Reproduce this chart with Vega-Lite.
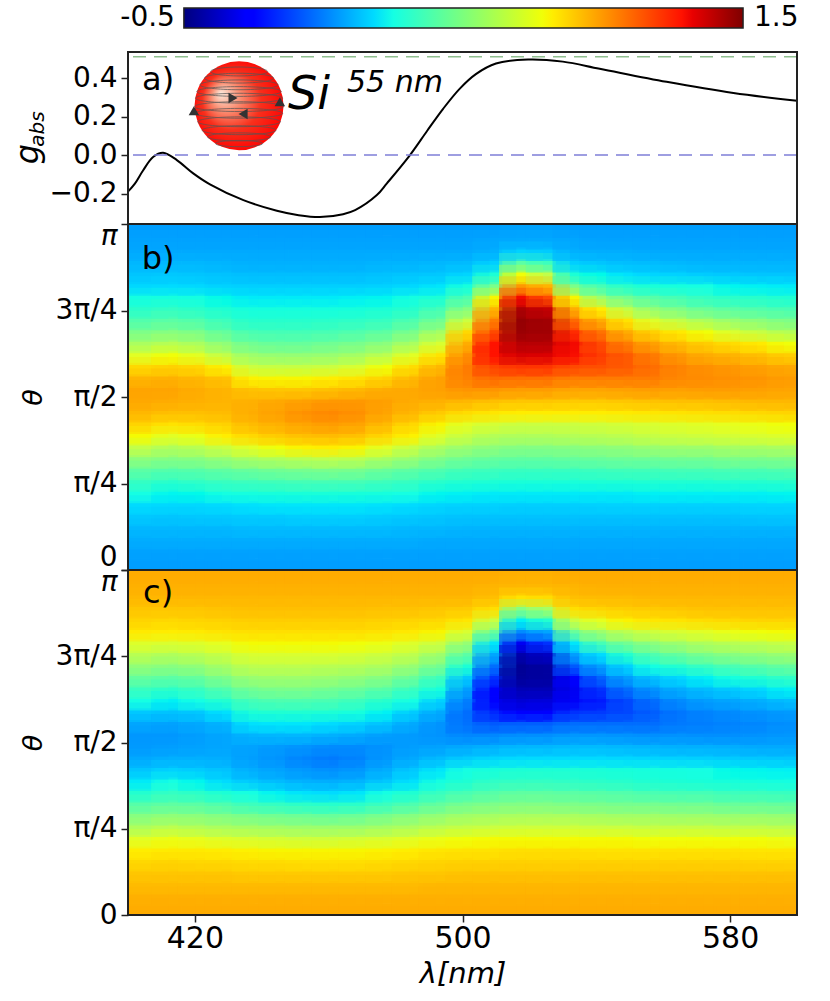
{"$schema":"https://vega.github.io/schema/vega-lite/v6.json","background":"white","autosize":{"type":"none"},"padding":{"left":128,"top":8,"right":702,"bottom":993},"config":{"view":{"stroke":null},"font":"DejaVu Sans","axis":{"labelFont":"DejaVu Sans","titleFont":"DejaVu Sans","labelFontSize":28,"titleFontSize":27,"labelColor":"#000","titleColor":"#000","tickColor":"#222","tickSize":7,"tickWidth":1.5,"domain":false,"grid":false,"labelPadding":4,"titleFontWeight":"normal"}},"datasets":{"field":[
{"l":404,"t":3,"v":0},{"l":404,"t":9,"v":0.01},{"l":404,"t":15,"v":0.04},{"l":404,"t":21,"v":0.07},{"l":404,"t":27,"v":0.12},{"l":404,"t":33,"v":0.18},{"l":404,"t":39,"v":0.25},{"l":404,"t":45,"v":0.36},{"l":404,"t":51,"v":0.45},{"l":404,"t":57,"v":0.56},{"l":404,"t":63,"v":0.68},{"l":404,"t":69,"v":0.79},{"l":404,"t":75,"v":0.89},{"l":404,"t":81,"v":0.97},{"l":404,"t":87,"v":1.01},{"l":404,"t":93,"v":1.02},{"l":404,"t":99,"v":0.98},{"l":404,"t":105,"v":0.88},{"l":404,"t":111,"v":0.75},{"l":404,"t":117,"v":0.63},{"l":404,"t":123,"v":0.53},{"l":404,"t":129,"v":0.43},{"l":404,"t":135,"v":0.34},{"l":404,"t":141,"v":0.26},{"l":404,"t":147,"v":0.17},{"l":404,"t":153,"v":0.11},{"l":404,"t":159,"v":0.07},{"l":404,"t":165,"v":0.03},{"l":404,"t":171,"v":0.01},{"l":404,"t":177,"v":0},
{"l":412,"t":3,"v":0},{"l":412,"t":9,"v":0.01},{"l":412,"t":15,"v":0.04},{"l":412,"t":21,"v":0.07},{"l":412,"t":27,"v":0.11},{"l":412,"t":33,"v":0.17},{"l":412,"t":39,"v":0.23},{"l":412,"t":45,"v":0.33},{"l":412,"t":51,"v":0.43},{"l":412,"t":57,"v":0.54},{"l":412,"t":63,"v":0.64},{"l":412,"t":69,"v":0.75},{"l":412,"t":75,"v":0.85},{"l":412,"t":81,"v":0.95},{"l":412,"t":87,"v":1.0},{"l":412,"t":93,"v":1.02},{"l":412,"t":99,"v":0.99},{"l":412,"t":105,"v":0.9},{"l":412,"t":111,"v":0.78},{"l":412,"t":117,"v":0.66},{"l":412,"t":123,"v":0.55},{"l":412,"t":129,"v":0.45},{"l":412,"t":135,"v":0.36},{"l":412,"t":141,"v":0.27},{"l":412,"t":147,"v":0.18},{"l":412,"t":153,"v":0.12},{"l":412,"t":159,"v":0.07},{"l":412,"t":165,"v":0.03},{"l":412,"t":171,"v":0.01},{"l":412,"t":177,"v":0},
{"l":420,"t":3,"v":0},{"l":420,"t":9,"v":0.01},{"l":420,"t":15,"v":0.04},{"l":420,"t":21,"v":0.07},{"l":420,"t":27,"v":0.12},{"l":420,"t":33,"v":0.17},{"l":420,"t":39,"v":0.24},{"l":420,"t":45,"v":0.35},{"l":420,"t":51,"v":0.44},{"l":420,"t":57,"v":0.55},{"l":420,"t":63,"v":0.66},{"l":420,"t":69,"v":0.77},{"l":420,"t":75,"v":0.87},{"l":420,"t":81,"v":0.95},{"l":420,"t":87,"v":0.99},{"l":420,"t":93,"v":1.0},{"l":420,"t":99,"v":0.97},{"l":420,"t":105,"v":0.88},{"l":420,"t":111,"v":0.75},{"l":420,"t":117,"v":0.63},{"l":420,"t":123,"v":0.53},{"l":420,"t":129,"v":0.43},{"l":420,"t":135,"v":0.34},{"l":420,"t":141,"v":0.26},{"l":420,"t":147,"v":0.17},{"l":420,"t":153,"v":0.11},{"l":420,"t":159,"v":0.07},{"l":420,"t":165,"v":0.03},{"l":420,"t":171,"v":0.01},{"l":420,"t":177,"v":0},
{"l":428,"t":3,"v":0},{"l":428,"t":9,"v":0.01},{"l":428,"t":15,"v":0.04},{"l":428,"t":21,"v":0.07},{"l":428,"t":27,"v":0.12},{"l":428,"t":33,"v":0.18},{"l":428,"t":39,"v":0.26},{"l":428,"t":45,"v":0.37},{"l":428,"t":51,"v":0.46},{"l":428,"t":57,"v":0.58},{"l":428,"t":63,"v":0.7},{"l":428,"t":69,"v":0.82},{"l":428,"t":75,"v":0.9},{"l":428,"t":81,"v":0.96},{"l":428,"t":87,"v":0.98},{"l":428,"t":93,"v":0.98},{"l":428,"t":99,"v":0.94},{"l":428,"t":105,"v":0.81},{"l":428,"t":111,"v":0.68},{"l":428,"t":117,"v":0.57},{"l":428,"t":123,"v":0.47},{"l":428,"t":129,"v":0.38},{"l":428,"t":135,"v":0.31},{"l":428,"t":141,"v":0.24},{"l":428,"t":147,"v":0.15},{"l":428,"t":153,"v":0.1},{"l":428,"t":159,"v":0.06},{"l":428,"t":165,"v":0.03},{"l":428,"t":171,"v":0.01},{"l":428,"t":177,"v":0},
{"l":436,"t":3,"v":0},{"l":436,"t":9,"v":0.01},{"l":436,"t":15,"v":0.04},{"l":436,"t":21,"v":0.08},{"l":436,"t":27,"v":0.13},{"l":436,"t":33,"v":0.19},{"l":436,"t":39,"v":0.27},{"l":436,"t":45,"v":0.38},{"l":436,"t":51,"v":0.48},{"l":436,"t":57,"v":0.62},{"l":436,"t":63,"v":0.75},{"l":436,"t":69,"v":0.88},{"l":436,"t":75,"v":0.96},{"l":436,"t":81,"v":1.0},{"l":436,"t":87,"v":0.99},{"l":436,"t":93,"v":0.94},{"l":436,"t":99,"v":0.81},{"l":436,"t":105,"v":0.7},{"l":436,"t":111,"v":0.6},{"l":436,"t":117,"v":0.5},{"l":436,"t":123,"v":0.41},{"l":436,"t":129,"v":0.33},{"l":436,"t":135,"v":0.27},{"l":436,"t":141,"v":0.21},{"l":436,"t":147,"v":0.14},{"l":436,"t":153,"v":0.09},{"l":436,"t":159,"v":0.05},{"l":436,"t":165,"v":0.03},{"l":436,"t":171,"v":0.01},{"l":436,"t":177,"v":0},
{"l":444,"t":3,"v":0},{"l":444,"t":9,"v":0.01},{"l":444,"t":15,"v":0.04},{"l":444,"t":21,"v":0.08},{"l":444,"t":27,"v":0.13},{"l":444,"t":33,"v":0.2},{"l":444,"t":39,"v":0.28},{"l":444,"t":45,"v":0.39},{"l":444,"t":51,"v":0.5},{"l":444,"t":57,"v":0.64},{"l":444,"t":63,"v":0.78},{"l":444,"t":69,"v":0.92},{"l":444,"t":75,"v":0.99},{"l":444,"t":81,"v":1.03},{"l":444,"t":87,"v":1.01},{"l":444,"t":93,"v":0.93},{"l":444,"t":99,"v":0.8},{"l":444,"t":105,"v":0.69},{"l":444,"t":111,"v":0.58},{"l":444,"t":117,"v":0.48},{"l":444,"t":123,"v":0.4},{"l":444,"t":129,"v":0.33},{"l":444,"t":135,"v":0.27},{"l":444,"t":141,"v":0.21},{"l":444,"t":147,"v":0.14},{"l":444,"t":153,"v":0.09},{"l":444,"t":159,"v":0.05},{"l":444,"t":165,"v":0.03},{"l":444,"t":171,"v":0.01},{"l":444,"t":177,"v":0},
{"l":452,"t":3,"v":0},{"l":452,"t":9,"v":0.01},{"l":452,"t":15,"v":0.04},{"l":452,"t":21,"v":0.08},{"l":452,"t":27,"v":0.14},{"l":452,"t":33,"v":0.2},{"l":452,"t":39,"v":0.29},{"l":452,"t":45,"v":0.4},{"l":452,"t":51,"v":0.51},{"l":452,"t":57,"v":0.66},{"l":452,"t":63,"v":0.81},{"l":452,"t":69,"v":0.95},{"l":452,"t":75,"v":1.02},{"l":452,"t":81,"v":1.07},{"l":452,"t":87,"v":1.03},{"l":452,"t":93,"v":0.93},{"l":452,"t":99,"v":0.8},{"l":452,"t":105,"v":0.69},{"l":452,"t":111,"v":0.58},{"l":452,"t":117,"v":0.48},{"l":452,"t":123,"v":0.4},{"l":452,"t":129,"v":0.33},{"l":452,"t":135,"v":0.27},{"l":452,"t":141,"v":0.21},{"l":452,"t":147,"v":0.14},{"l":452,"t":153,"v":0.09},{"l":452,"t":159,"v":0.05},{"l":452,"t":165,"v":0.03},{"l":452,"t":171,"v":0.01},{"l":452,"t":177,"v":0},
{"l":460,"t":3,"v":0},{"l":460,"t":9,"v":0.01},{"l":460,"t":15,"v":0.04},{"l":460,"t":21,"v":0.08},{"l":460,"t":27,"v":0.14},{"l":460,"t":33,"v":0.2},{"l":460,"t":39,"v":0.29},{"l":460,"t":45,"v":0.4},{"l":460,"t":51,"v":0.52},{"l":460,"t":57,"v":0.67},{"l":460,"t":63,"v":0.82},{"l":460,"t":69,"v":0.96},{"l":460,"t":75,"v":1.04},{"l":460,"t":81,"v":1.09},{"l":460,"t":87,"v":1.05},{"l":460,"t":93,"v":0.95},{"l":460,"t":99,"v":0.82},{"l":460,"t":105,"v":0.7},{"l":460,"t":111,"v":0.59},{"l":460,"t":117,"v":0.5},{"l":460,"t":123,"v":0.41},{"l":460,"t":129,"v":0.34},{"l":460,"t":135,"v":0.27},{"l":460,"t":141,"v":0.21},{"l":460,"t":147,"v":0.14},{"l":460,"t":153,"v":0.09},{"l":460,"t":159,"v":0.05},{"l":460,"t":165,"v":0.03},{"l":460,"t":171,"v":0.01},{"l":460,"t":177,"v":0},
{"l":468,"t":3,"v":0},{"l":468,"t":9,"v":0.01},{"l":468,"t":15,"v":0.04},{"l":468,"t":21,"v":0.08},{"l":468,"t":27,"v":0.14},{"l":468,"t":33,"v":0.2},{"l":468,"t":39,"v":0.28},{"l":468,"t":45,"v":0.4},{"l":468,"t":51,"v":0.51},{"l":468,"t":57,"v":0.66},{"l":468,"t":63,"v":0.8},{"l":468,"t":69,"v":0.94},{"l":468,"t":75,"v":1.02},{"l":468,"t":81,"v":1.07},{"l":468,"t":87,"v":1.05},{"l":468,"t":93,"v":0.97},{"l":468,"t":99,"v":0.85},{"l":468,"t":105,"v":0.73},{"l":468,"t":111,"v":0.62},{"l":468,"t":117,"v":0.52},{"l":468,"t":123,"v":0.43},{"l":468,"t":129,"v":0.35},{"l":468,"t":135,"v":0.28},{"l":468,"t":141,"v":0.22},{"l":468,"t":147,"v":0.14},{"l":468,"t":153,"v":0.09},{"l":468,"t":159,"v":0.05},{"l":468,"t":165,"v":0.03},{"l":468,"t":171,"v":0.01},{"l":468,"t":177,"v":0},
{"l":476,"t":3,"v":0},{"l":476,"t":9,"v":0.01},{"l":476,"t":15,"v":0.04},{"l":476,"t":21,"v":0.08},{"l":476,"t":27,"v":0.13},{"l":476,"t":33,"v":0.19},{"l":476,"t":39,"v":0.27},{"l":476,"t":45,"v":0.38},{"l":476,"t":51,"v":0.48},{"l":476,"t":57,"v":0.62},{"l":476,"t":63,"v":0.75},{"l":476,"t":69,"v":0.88},{"l":476,"t":75,"v":0.96},{"l":476,"t":81,"v":1.02},{"l":476,"t":87,"v":1.03},{"l":476,"t":93,"v":1.0},{"l":476,"t":99,"v":0.9},{"l":476,"t":105,"v":0.78},{"l":476,"t":111,"v":0.67},{"l":476,"t":117,"v":0.56},{"l":476,"t":123,"v":0.46},{"l":476,"t":129,"v":0.37},{"l":476,"t":135,"v":0.3},{"l":476,"t":141,"v":0.23},{"l":476,"t":147,"v":0.15},{"l":476,"t":153,"v":0.1},{"l":476,"t":159,"v":0.06},{"l":476,"t":165,"v":0.03},{"l":476,"t":171,"v":0.01},{"l":476,"t":177,"v":0},
{"l":484,"t":3,"v":0},{"l":484,"t":9,"v":0.01},{"l":484,"t":15,"v":0.04},{"l":484,"t":21,"v":0.07},{"l":484,"t":27,"v":0.12},{"l":484,"t":33,"v":0.18},{"l":484,"t":39,"v":0.25},{"l":484,"t":45,"v":0.36},{"l":484,"t":51,"v":0.45},{"l":484,"t":57,"v":0.58},{"l":484,"t":63,"v":0.69},{"l":484,"t":69,"v":0.81},{"l":484,"t":75,"v":0.88},{"l":484,"t":81,"v":0.97},{"l":484,"t":87,"v":1.0},{"l":484,"t":93,"v":1.01},{"l":484,"t":99,"v":0.97},{"l":484,"t":105,"v":0.87},{"l":484,"t":111,"v":0.75},{"l":484,"t":117,"v":0.63},{"l":484,"t":123,"v":0.52},{"l":484,"t":129,"v":0.42},{"l":484,"t":135,"v":0.33},{"l":484,"t":141,"v":0.26},{"l":484,"t":147,"v":0.17},{"l":484,"t":153,"v":0.11},{"l":484,"t":159,"v":0.06},{"l":484,"t":165,"v":0.03},{"l":484,"t":171,"v":0.01},{"l":484,"t":177,"v":0},
{"l":492,"t":3,"v":0},{"l":492,"t":9,"v":0.01},{"l":492,"t":15,"v":0.03},{"l":492,"t":21,"v":0.07},{"l":492,"t":27,"v":0.11},{"l":492,"t":33,"v":0.16},{"l":492,"t":39,"v":0.23},{"l":492,"t":45,"v":0.33},{"l":492,"t":51,"v":0.42},{"l":492,"t":57,"v":0.53},{"l":492,"t":63,"v":0.63},{"l":492,"t":69,"v":0.74},{"l":492,"t":75,"v":0.8},{"l":492,"t":81,"v":0.92},{"l":492,"t":87,"v":0.99},{"l":492,"t":93,"v":1.03},{"l":492,"t":99,"v":1.03},{"l":492,"t":105,"v":0.97},{"l":492,"t":111,"v":0.85},{"l":492,"t":117,"v":0.73},{"l":492,"t":123,"v":0.62},{"l":492,"t":129,"v":0.5},{"l":492,"t":135,"v":0.4},{"l":492,"t":141,"v":0.3},{"l":492,"t":147,"v":0.2},{"l":492,"t":153,"v":0.12},{"l":492,"t":159,"v":0.07},{"l":492,"t":165,"v":0.03},{"l":492,"t":171,"v":0.01},{"l":492,"t":177,"v":0},
{"l":500,"t":3,"v":0},{"l":500,"t":9,"v":0.01},{"l":500,"t":15,"v":0.03},{"l":500,"t":21,"v":0.06},{"l":500,"t":27,"v":0.1},{"l":500,"t":33,"v":0.15},{"l":500,"t":39,"v":0.22},{"l":500,"t":45,"v":0.31},{"l":500,"t":51,"v":0.39},{"l":500,"t":57,"v":0.49},{"l":500,"t":63,"v":0.59},{"l":500,"t":69,"v":0.69},{"l":500,"t":75,"v":0.75},{"l":500,"t":81,"v":0.87},{"l":500,"t":87,"v":0.97},{"l":500,"t":93,"v":1.06},{"l":500,"t":99,"v":1.11},{"l":500,"t":105,"v":1.12},{"l":500,"t":111,"v":1.08},{"l":500,"t":117,"v":1.0},{"l":500,"t":123,"v":0.88},{"l":500,"t":129,"v":0.7},{"l":500,"t":135,"v":0.55},{"l":500,"t":141,"v":0.42},{"l":500,"t":147,"v":0.27},{"l":500,"t":153,"v":0.16},{"l":500,"t":159,"v":0.08},{"l":500,"t":165,"v":0.03},{"l":500,"t":171,"v":0.01},{"l":500,"t":177,"v":0},
{"l":508,"t":3,"v":0},{"l":508,"t":9,"v":0.01},{"l":508,"t":15,"v":0.03},{"l":508,"t":21,"v":0.06},{"l":508,"t":27,"v":0.1},{"l":508,"t":33,"v":0.15},{"l":508,"t":39,"v":0.21},{"l":508,"t":45,"v":0.3},{"l":508,"t":51,"v":0.38},{"l":508,"t":57,"v":0.47},{"l":508,"t":63,"v":0.56},{"l":508,"t":69,"v":0.65},{"l":508,"t":75,"v":0.72},{"l":508,"t":81,"v":0.84},{"l":508,"t":87,"v":0.95},{"l":508,"t":93,"v":1.06},{"l":508,"t":99,"v":1.16},{"l":508,"t":105,"v":1.23},{"l":508,"t":111,"v":1.28},{"l":508,"t":117,"v":1.28},{"l":508,"t":123,"v":1.22},{"l":508,"t":129,"v":1.12},{"l":508,"t":135,"v":0.98},{"l":508,"t":141,"v":0.8},{"l":508,"t":147,"v":0.52},{"l":508,"t":153,"v":0.3},{"l":508,"t":159,"v":0.14},{"l":508,"t":165,"v":0.05},{"l":508,"t":171,"v":0.02},{"l":508,"t":177,"v":0},
{"l":516,"t":3,"v":0},{"l":516,"t":9,"v":0.01},{"l":516,"t":15,"v":0.03},{"l":516,"t":21,"v":0.06},{"l":516,"t":27,"v":0.1},{"l":516,"t":33,"v":0.14},{"l":516,"t":39,"v":0.21},{"l":516,"t":45,"v":0.29},{"l":516,"t":51,"v":0.37},{"l":516,"t":57,"v":0.46},{"l":516,"t":63,"v":0.54},{"l":516,"t":69,"v":0.64},{"l":516,"t":75,"v":0.7},{"l":516,"t":81,"v":0.82},{"l":516,"t":87,"v":0.93},{"l":516,"t":93,"v":1.04},{"l":516,"t":99,"v":1.15},{"l":516,"t":105,"v":1.25},{"l":516,"t":111,"v":1.35},{"l":516,"t":117,"v":1.4},{"l":516,"t":123,"v":1.45},{"l":516,"t":129,"v":1.46},{"l":516,"t":135,"v":1.42},{"l":516,"t":141,"v":1.3},{"l":516,"t":147,"v":1.05},{"l":516,"t":153,"v":0.78},{"l":516,"t":159,"v":0.45},{"l":516,"t":165,"v":0.15},{"l":516,"t":171,"v":0.03},{"l":516,"t":177,"v":0.01},
{"l":524,"t":3,"v":0},{"l":524,"t":9,"v":0.01},{"l":524,"t":15,"v":0.03},{"l":524,"t":21,"v":0.06},{"l":524,"t":27,"v":0.1},{"l":524,"t":33,"v":0.14},{"l":524,"t":39,"v":0.21},{"l":524,"t":45,"v":0.29},{"l":524,"t":51,"v":0.37},{"l":524,"t":57,"v":0.46},{"l":524,"t":63,"v":0.54},{"l":524,"t":69,"v":0.64},{"l":524,"t":75,"v":0.7},{"l":524,"t":81,"v":0.82},{"l":524,"t":87,"v":0.93},{"l":524,"t":93,"v":1.04},{"l":524,"t":99,"v":1.15},{"l":524,"t":105,"v":1.25},{"l":524,"t":111,"v":1.34},{"l":524,"t":117,"v":1.4},{"l":524,"t":123,"v":1.44},{"l":524,"t":129,"v":1.44},{"l":524,"t":135,"v":1.38},{"l":524,"t":141,"v":1.22},{"l":524,"t":147,"v":0.98},{"l":524,"t":153,"v":0.68},{"l":524,"t":159,"v":0.38},{"l":524,"t":165,"v":0.13},{"l":524,"t":171,"v":0.03},{"l":524,"t":177,"v":0.01},
{"l":532,"t":3,"v":0},{"l":532,"t":9,"v":0.01},{"l":532,"t":15,"v":0.03},{"l":532,"t":21,"v":0.06},{"l":532,"t":27,"v":0.1},{"l":532,"t":33,"v":0.14},{"l":532,"t":39,"v":0.21},{"l":532,"t":45,"v":0.29},{"l":532,"t":51,"v":0.37},{"l":532,"t":57,"v":0.47},{"l":532,"t":63,"v":0.55},{"l":532,"t":69,"v":0.65},{"l":532,"t":75,"v":0.7},{"l":532,"t":81,"v":0.82},{"l":532,"t":87,"v":0.92},{"l":532,"t":93,"v":1.02},{"l":532,"t":99,"v":1.12},{"l":532,"t":105,"v":1.22},{"l":532,"t":111,"v":1.29},{"l":532,"t":117,"v":1.3},{"l":532,"t":123,"v":1.26},{"l":532,"t":129,"v":1.16},{"l":532,"t":135,"v":1.0},{"l":532,"t":141,"v":0.8},{"l":532,"t":147,"v":0.52},{"l":532,"t":153,"v":0.3},{"l":532,"t":159,"v":0.14},{"l":532,"t":165,"v":0.05},{"l":532,"t":171,"v":0.02},{"l":532,"t":177,"v":0},
{"l":540,"t":3,"v":0},{"l":540,"t":9,"v":0.01},{"l":540,"t":15,"v":0.03},{"l":540,"t":21,"v":0.06},{"l":540,"t":27,"v":0.1},{"l":540,"t":33,"v":0.15},{"l":540,"t":39,"v":0.21},{"l":540,"t":45,"v":0.3},{"l":540,"t":51,"v":0.38},{"l":540,"t":57,"v":0.48},{"l":540,"t":63,"v":0.56},{"l":540,"t":69,"v":0.66},{"l":540,"t":75,"v":0.71},{"l":540,"t":81,"v":0.82},{"l":540,"t":87,"v":0.92},{"l":540,"t":93,"v":1.02},{"l":540,"t":99,"v":1.12},{"l":540,"t":105,"v":1.21},{"l":540,"t":111,"v":1.24},{"l":540,"t":117,"v":1.22},{"l":540,"t":123,"v":1.14},{"l":540,"t":129,"v":1.0},{"l":540,"t":135,"v":0.82},{"l":540,"t":141,"v":0.6},{"l":540,"t":147,"v":0.4},{"l":540,"t":153,"v":0.24},{"l":540,"t":159,"v":0.11},{"l":540,"t":165,"v":0.04},{"l":540,"t":171,"v":0.01},{"l":540,"t":177,"v":0},
{"l":548,"t":3,"v":0},{"l":548,"t":9,"v":0.01},{"l":548,"t":15,"v":0.03},{"l":548,"t":21,"v":0.06},{"l":548,"t":27,"v":0.1},{"l":548,"t":33,"v":0.15},{"l":548,"t":39,"v":0.21},{"l":548,"t":45,"v":0.3},{"l":548,"t":51,"v":0.39},{"l":548,"t":57,"v":0.49},{"l":548,"t":63,"v":0.57},{"l":548,"t":69,"v":0.67},{"l":548,"t":75,"v":0.72},{"l":548,"t":81,"v":0.83},{"l":548,"t":87,"v":0.93},{"l":548,"t":93,"v":1.03},{"l":548,"t":99,"v":1.12},{"l":548,"t":105,"v":1.19},{"l":548,"t":111,"v":1.19},{"l":548,"t":117,"v":1.12},{"l":548,"t":123,"v":1.0},{"l":548,"t":129,"v":0.85},{"l":548,"t":135,"v":0.68},{"l":548,"t":141,"v":0.5},{"l":548,"t":147,"v":0.33},{"l":548,"t":153,"v":0.19},{"l":548,"t":159,"v":0.09},{"l":548,"t":165,"v":0.04},{"l":548,"t":171,"v":0.01},{"l":548,"t":177,"v":0},
{"l":556,"t":3,"v":0},{"l":556,"t":9,"v":0.01},{"l":556,"t":15,"v":0.03},{"l":556,"t":21,"v":0.06},{"l":556,"t":27,"v":0.1},{"l":556,"t":33,"v":0.15},{"l":556,"t":39,"v":0.22},{"l":556,"t":45,"v":0.31},{"l":556,"t":51,"v":0.39},{"l":556,"t":57,"v":0.49},{"l":556,"t":63,"v":0.59},{"l":556,"t":69,"v":0.69},{"l":556,"t":75,"v":0.73},{"l":556,"t":81,"v":0.84},{"l":556,"t":87,"v":0.94},{"l":556,"t":93,"v":1.04},{"l":556,"t":99,"v":1.12},{"l":556,"t":105,"v":1.15},{"l":556,"t":111,"v":1.12},{"l":556,"t":117,"v":1.03},{"l":556,"t":123,"v":0.9},{"l":556,"t":129,"v":0.74},{"l":556,"t":135,"v":0.58},{"l":556,"t":141,"v":0.44},{"l":556,"t":147,"v":0.29},{"l":556,"t":153,"v":0.16},{"l":556,"t":159,"v":0.08},{"l":556,"t":165,"v":0.03},{"l":556,"t":171,"v":0.01},{"l":556,"t":177,"v":0},
{"l":564,"t":3,"v":0},{"l":564,"t":9,"v":0.01},{"l":564,"t":15,"v":0.03},{"l":564,"t":21,"v":0.06},{"l":564,"t":27,"v":0.1},{"l":564,"t":33,"v":0.15},{"l":564,"t":39,"v":0.22},{"l":564,"t":45,"v":0.31},{"l":564,"t":51,"v":0.4},{"l":564,"t":57,"v":0.5},{"l":564,"t":63,"v":0.6},{"l":564,"t":69,"v":0.7},{"l":564,"t":75,"v":0.74},{"l":564,"t":81,"v":0.85},{"l":564,"t":87,"v":0.95},{"l":564,"t":93,"v":1.03},{"l":564,"t":99,"v":1.09},{"l":564,"t":105,"v":1.1},{"l":564,"t":111,"v":1.05},{"l":564,"t":117,"v":0.96},{"l":564,"t":123,"v":0.83},{"l":564,"t":129,"v":0.68},{"l":564,"t":135,"v":0.53},{"l":564,"t":141,"v":0.4},{"l":564,"t":147,"v":0.27},{"l":564,"t":153,"v":0.15},{"l":564,"t":159,"v":0.07},{"l":564,"t":165,"v":0.03},{"l":564,"t":171,"v":0.01},{"l":564,"t":177,"v":0},
{"l":572,"t":3,"v":0},{"l":572,"t":9,"v":0.01},{"l":572,"t":15,"v":0.03},{"l":572,"t":21,"v":0.06},{"l":572,"t":27,"v":0.1},{"l":572,"t":33,"v":0.15},{"l":572,"t":39,"v":0.22},{"l":572,"t":45,"v":0.31},{"l":572,"t":51,"v":0.4},{"l":572,"t":57,"v":0.5},{"l":572,"t":63,"v":0.6},{"l":572,"t":69,"v":0.71},{"l":572,"t":75,"v":0.75},{"l":572,"t":81,"v":0.86},{"l":572,"t":87,"v":0.95},{"l":572,"t":93,"v":1.04},{"l":572,"t":99,"v":1.08},{"l":572,"t":105,"v":1.07},{"l":572,"t":111,"v":1.0},{"l":572,"t":117,"v":0.91},{"l":572,"t":123,"v":0.78},{"l":572,"t":129,"v":0.63},{"l":572,"t":135,"v":0.48},{"l":572,"t":141,"v":0.36},{"l":572,"t":147,"v":0.25},{"l":572,"t":153,"v":0.13},{"l":572,"t":159,"v":0.06},{"l":572,"t":165,"v":0.03},{"l":572,"t":171,"v":0.01},{"l":572,"t":177,"v":0},
{"l":580,"t":3,"v":0},{"l":580,"t":9,"v":0.01},{"l":580,"t":15,"v":0.03},{"l":580,"t":21,"v":0.06},{"l":580,"t":27,"v":0.1},{"l":580,"t":33,"v":0.15},{"l":580,"t":39,"v":0.22},{"l":580,"t":45,"v":0.32},{"l":580,"t":51,"v":0.41},{"l":580,"t":57,"v":0.52},{"l":580,"t":63,"v":0.62},{"l":580,"t":69,"v":0.72},{"l":580,"t":75,"v":0.76},{"l":580,"t":81,"v":0.87},{"l":580,"t":87,"v":0.96},{"l":580,"t":93,"v":1.04},{"l":580,"t":99,"v":1.07},{"l":580,"t":105,"v":1.05},{"l":580,"t":111,"v":0.98},{"l":580,"t":117,"v":0.87},{"l":580,"t":123,"v":0.73},{"l":580,"t":129,"v":0.59},{"l":580,"t":135,"v":0.45},{"l":580,"t":141,"v":0.34},{"l":580,"t":147,"v":0.23},{"l":580,"t":153,"v":0.12},{"l":580,"t":159,"v":0.06},{"l":580,"t":165,"v":0.03},{"l":580,"t":171,"v":0.01},{"l":580,"t":177,"v":0},
{"l":588,"t":3,"v":0},{"l":588,"t":9,"v":0.01},{"l":588,"t":15,"v":0.03},{"l":588,"t":21,"v":0.06},{"l":588,"t":27,"v":0.11},{"l":588,"t":33,"v":0.16},{"l":588,"t":39,"v":0.22},{"l":588,"t":45,"v":0.32},{"l":588,"t":51,"v":0.41},{"l":588,"t":57,"v":0.52},{"l":588,"t":63,"v":0.62},{"l":588,"t":69,"v":0.73},{"l":588,"t":75,"v":0.77},{"l":588,"t":81,"v":0.88},{"l":588,"t":87,"v":0.97},{"l":588,"t":93,"v":1.03},{"l":588,"t":99,"v":1.06},{"l":588,"t":105,"v":1.03},{"l":588,"t":111,"v":0.95},{"l":588,"t":117,"v":0.83},{"l":588,"t":123,"v":0.69},{"l":588,"t":129,"v":0.56},{"l":588,"t":135,"v":0.43},{"l":588,"t":141,"v":0.33},{"l":588,"t":147,"v":0.22},{"l":588,"t":153,"v":0.11},{"l":588,"t":159,"v":0.06},{"l":588,"t":165,"v":0.03},{"l":588,"t":171,"v":0.01},{"l":588,"t":177,"v":0},
{"l":596,"t":3,"v":0},{"l":596,"t":9,"v":0.01},{"l":596,"t":15,"v":0.03},{"l":596,"t":21,"v":0.06},{"l":596,"t":27,"v":0.11},{"l":596,"t":33,"v":0.16},{"l":596,"t":39,"v":0.23},{"l":596,"t":45,"v":0.33},{"l":596,"t":51,"v":0.42},{"l":596,"t":57,"v":0.53},{"l":596,"t":63,"v":0.63},{"l":596,"t":69,"v":0.74},{"l":596,"t":75,"v":0.78},{"l":596,"t":81,"v":0.89},{"l":596,"t":87,"v":0.97},{"l":596,"t":93,"v":1.02},{"l":596,"t":99,"v":1.04},{"l":596,"t":105,"v":1.01},{"l":596,"t":111,"v":0.91},{"l":596,"t":117,"v":0.78},{"l":596,"t":123,"v":0.65},{"l":596,"t":129,"v":0.53},{"l":596,"t":135,"v":0.41},{"l":596,"t":141,"v":0.31},{"l":596,"t":147,"v":0.21},{"l":596,"t":153,"v":0.11},{"l":596,"t":159,"v":0.06},{"l":596,"t":165,"v":0.03},{"l":596,"t":171,"v":0.01},{"l":596,"t":177,"v":0}
]},"bounds":"flush","spacing":24,"resolve":{"scale":{"color":"independent"}},"vconcat":[
{"width":669,"height":20,"data":{"values":[{"lo":-0.5,"hi":1.5,"lotxt":"-0.5","hitxt":"1.5"}]},"layer":[
{"mark":{"type":"rect","stroke":"#222","strokeWidth":1.5,"fill":{"gradient":"linear","x1":0,"x2":1,"y1":0,"y2":0,"stops":[{"offset":0,"color":"#00007f"},{"offset":0.11,"color":"#0000ff"},{"offset":0.125,"color":"#0000ff"},{"offset":0.34,"color":"#00dbff"},{"offset":0.375,"color":"#15ffe3"},{"offset":0.64,"color":"#f0ff08"},{"offset":0.66,"color":"#ffed00"},{"offset":0.89,"color":"#ff1200"},{"offset":0.91,"color":"#e80000"},{"offset":1,"color":"#7f0000"}]}},"encoding":{"x":{"field":"lo","type":"quantitative","axis":null,"scale":{"domain":[-0.7,1.693],"nice":false,"zero":false}},"x2":{"field":"hi"}}},
{"mark":{"type":"text","fontSize":28,"align":"right","baseline":"middle","dx":-9,"color":"#000"},"encoding":{"x":{"field":"lo","type":"quantitative"},"text":{"field":"lotxt"}}},
{"mark":{"type":"text","fontSize":28,"align":"left","baseline":"middle","dx":11,"color":"#000"},"encoding":{"x":{"field":"hi","type":"quantitative"},"text":{"field":"hitxt"}}}
]},
{"bounds":"flush","spacing":0,"resolve":{"scale":{"color":"independent"}},"vconcat":[
{"width":669,"height":172,"layer":[
{"data":{"values":[{"lam":400,"g":-0.19},{"lam":402,"g":-0.15},{"lam":404.5,"g":-0.08},{"lam":407.5,"g":-0.01},{"lam":410.5,"g":0.012},{"lam":414.6,"g":-0.026},{"lam":419.5,"g":-0.095},{"lam":424.5,"g":-0.152},{"lam":434.5,"g":-0.234},{"lam":444.5,"g":-0.289},{"lam":451,"g":-0.312},{"lam":457.4,"g":-0.322},{"lam":464.3,"g":-0.307},{"lam":467.9,"g":-0.286},{"lam":474.4,"g":-0.208},{"lam":477.4,"g":-0.147},{"lam":484.3,"g":0},{"lam":489.4,"g":0.125},{"lam":494.2,"g":0.24},{"lam":499.2,"g":0.345},{"lam":504,"g":0.42},{"lam":510,"g":0.475},{"lam":519.6,"g":0.496},{"lam":530,"g":0.485},{"lam":541,"g":0.448},{"lam":561,"g":0.38},{"lam":581,"g":0.322},{"lam":600,"g":0.282}]},"mark":{"type":"line","color":"#000","strokeWidth":2,"interpolate":"catmull-rom"},"encoding":{"x":{"field":"lam","type":"quantitative","title":null,"scale":{"domain":[400,600],"nice":false,"zero":false},"axis":null},"y":{"field":"g","type":"quantitative","title":null,"scale":{"domain":[-0.358,0.535],"nice":false,"zero":false},"axis":{"values":[-0.2,0,0.2,0.4],"format":".1f","labelExpr":"replace(datum.label,'-','−')"}}}},
{"data":{"values":[{"g":0.51}]},"mark":{"type":"rule","color":"#8fbf8f","strokeWidth":1.5,"strokeDash":[13,8]},"encoding":{"y":{"field":"g","type":"quantitative"}}},
{"data":{"values":[{"g":0}]},"mark":{"type":"rule","color":"#7f7fd8","strokeWidth":1.5,"strokeDash":[13,8]},"encoding":{"y":{"field":"g","type":"quantitative"}}},
{"data":{"values":[{"lam":433.2,"g":0.256}]},"mark":{"type":"point","filled":true,"size":7921,"opacity":1,"fill":{"gradient":"radial","x1":0.29,"y1":0.36,"r1":0,"x2":0.5,"y2":0.5,"r2":0.55,"stops":[{"offset":0,"color":"#fdeadc"},{"offset":0.3,"color":"#fa8c70"},{"offset":0.6,"color":"#f8301c"},{"offset":1,"color":"#ff0000"}]}},"encoding":{"x":{"field":"lam","type":"quantitative"},"y":{"field":"g","type":"quantitative"}}},
{"data":{"values":[{"lam":433.2,"g":0.256}]},"mark":{"type":"point","filled":false,"size":7921,"opacity":0.8,"stroke":"#555","strokeWidth":0.9,"shape":"M-0.64,-0.77A0.64,0.1 0 1 0 0.64,-0.77A0.64,0.1 0 1 0 -0.64,-0.77M-0.78,-0.62A0.78,0.11 0 1 0 0.78,-0.62A0.78,0.11 0 1 0 -0.78,-0.62M-0.88,-0.47A0.88,0.11 0 1 0 0.88,-0.47A0.88,0.11 0 1 0 -0.88,-0.47M-0.95,-0.32A0.95,0.11 0 1 0 0.95,-0.32A0.95,0.11 0 1 0 -0.95,-0.32M-0.98,-0.17A0.98,0.11 0 1 0 0.98,-0.17A0.98,0.11 0 1 0 -0.98,-0.17M-1,0.02A1,0.11 0 1 0 1,0.02A1,0.11 0 1 0 -1,0.02M-0.98,0.17A0.98,0.11 0 1 0 0.98,0.17A0.98,0.11 0 1 0 -0.98,0.17M-0.93,0.36A0.93,0.11 0 1 0 0.93,0.36A0.93,0.11 0 1 0 -0.93,0.36M-0.83,0.55A0.83,0.1 0 1 0 0.83,0.55A0.83,0.1 0 1 0 -0.83,0.55M-0.71,0.7A0.71,0.09 0 1 0 0.71,0.7A0.71,0.09 0 1 0 -0.71,0.7M-0.53,0.85A0.53,0.07 0 1 0 0.53,0.85A0.53,0.07 0 1 0 -0.53,0.85"},"encoding":{"x":{"field":"lam","type":"quantitative"},"y":{"field":"g","type":"quantitative"}}},
{"data":{"values":[{"lam":431.4,"g":0.296,"s":"triangle-right"},{"lam":434.4,"g":0.213,"s":"triangle-left"},{"lam":445.4,"g":0.277,"s":"triangle-up"},{"lam":419.7,"g":0.23,"s":"triangle-up"}]},"mark":{"type":"point","filled":true,"size":110,"opacity":1,"color":"#333"},"encoding":{"x":{"field":"lam","type":"quantitative"},"y":{"field":"g","type":"quantitative"},"shape":{"field":"s","type":"nominal","scale":null,"legend":null}}},
{"data":{"values":[{"lam":409,"g":0.39,"txt":"a)"}]},"mark":{"type":"text","fontSize":32,"align":"center","baseline":"middle","color":"#000"},"encoding":{"x":{"field":"lam","type":"quantitative"},"y":{"field":"g","type":"quantitative"},"text":{"field":"txt"}}},
{"data":{"values":[{"lam":454.1,"g":0.312,"txt":"Si"}]},"mark":{"type":"text","fontSize":46,"fontStyle":"italic","align":"center","baseline":"middle","color":"#000"},"encoding":{"x":{"field":"lam","type":"quantitative"},"y":{"field":"g","type":"quantitative"},"text":{"field":"txt"}}},
{"data":{"values":[{"lam":479.8,"g":0.374,"txt":"55 nm"}]},"mark":{"type":"text","fontSize":30,"fontStyle":"italic","align":"center","baseline":"middle","color":"#000"},"encoding":{"x":{"field":"lam","type":"quantitative"},"y":{"field":"g","type":"quantitative"},"text":{"field":"txt"}}},
{"data":{"values":[{"lam":373.2,"g":0.005,"txt":"g"}]},"mark":{"type":"text","fontSize":32,"fontStyle":"italic","angle":270,"align":"center","baseline":"alphabetic","color":"#000"},"encoding":{"x":{"field":"lam","type":"quantitative"},"y":{"field":"g","type":"quantitative"},"text":{"field":"txt"}}},
{"data":{"values":[{"lam":374.8,"g":0.135,"txt":"abs"}]},"mark":{"type":"text","fontSize":20,"fontStyle":"italic","angle":270,"align":"center","baseline":"alphabetic","color":"#000"},"encoding":{"x":{"field":"lam","type":"quantitative"},"y":{"field":"g","type":"quantitative"},"text":{"field":"txt"}}},
{"data":{"values":[{"a":400,"b":600,"c":-0.358,"d":0.535}]},"mark":{"type":"rect","fillOpacity":0,"stroke":"#222","strokeWidth":2},"encoding":{"x":{"field":"a","type":"quantitative"},"x2":{"field":"b"},"y":{"field":"c","type":"quantitative"},"y2":{"field":"d"}}}
]},
{"width":669,"height":346,"layer":[
{"data":{"name":"field"},"mark":{"type":"rect","width":27.4,"height":12.2,"clip":true},"encoding":{"x":{"field":"l","type":"quantitative","title":null,"axis":null,"scale":{"domain":[400,600],"nice":false,"zero":false}},"y":{"field":"t","type":"quantitative","title":"θ","scale":{"domain":[0,180],"nice":false,"zero":false},"axis":{"values":[0,45,90,135,180],"titleFontStyle":"italic","titleX":-95,"titleBaseline":"middle","labelFontStyle":{"condition":{"test":"datum.value==180","value":"italic"},"value":"normal"},"labelOffset":{"condition":[{"test":"datum.value==0","value":-13},{"test":"datum.value==180","value":12}],"value":0},"labelExpr":"datum.value==0?'0':datum.value==45?'π/4':datum.value==90?'π/2':datum.value==135?'3π/4':'π'"}},"color":{"field":"v","type":"quantitative","legend":null,"scale":{"domain":[-0.5,-0.28,-0.25,0.18,0.25,0.78,0.82,1.28,1.32,1.5],"range":["#00007f","#0000ff","#0000ff","#00dbff","#15ffe3","#f0ff08","#ffed00","#ff1200","#e80000","#7f0000"],"clamp":true}}}},
{"data":{"name":"field"},"mark":{"type":"rect","width":44,"height":19.5,"clip":true,"opacity":0.5,"xOffset":5,"yOffset":-1.5},"encoding":{"x":{"field":"l","type":"quantitative"},"y":{"field":"t","type":"quantitative"},"color":{"field":"v","type":"quantitative","legend":null}}},
{"data":{"values":[{"lam":409,"t":162,"txt":"b)"}]},"mark":{"type":"text","fontSize":32,"align":"center","baseline":"middle","color":"#000"},"encoding":{"x":{"field":"lam","type":"quantitative"},"y":{"field":"t","type":"quantitative"},"text":{"field":"txt"}}},
{"data":{"values":[{"a":400,"b":600,"c":0,"d":180}]},"mark":{"type":"rect","fillOpacity":0,"stroke":"#222","strokeWidth":2},"encoding":{"x":{"field":"a","type":"quantitative"},"x2":{"field":"b"},"y":{"field":"c","type":"quantitative"},"y2":{"field":"d"}}}
]},
{"width":669,"height":345,"layer":[
{"data":{"name":"field"},"mark":{"type":"rect","width":27.4,"height":12.2,"clip":true},"encoding":{"x":{"field":"l","type":"quantitative","title":"λ[nm]","scale":{"domain":[400,600],"nice":false,"zero":false},"axis":{"values":[420,500,580],"labelFontSize":30,"labelPadding":1,"titleFontStyle":"italic","titleFontSize":29,"titlePadding":6}},"y":{"field":"t","type":"quantitative","title":"θ","scale":{"domain":[0,180],"nice":false,"zero":false},"axis":{"values":[0,45,90,135,180],"titleFontStyle":"italic","titleX":-95,"titleBaseline":"middle","labelFontStyle":{"condition":{"test":"datum.value==180","value":"italic"},"value":"normal"},"labelOffset":{"condition":{"test":"datum.value==180","value":12},"value":0},"labelExpr":"datum.value==0?'0':datum.value==45?'π/4':datum.value==90?'π/2':datum.value==135?'3π/4':'π'"}},"color":{"field":"v","type":"quantitative","legend":null,"scale":{"domain":[1.5,1.28,1.25,0.82,0.75,0.22,0.18,-0.28,-0.32,-0.5],"range":["#00007f","#0000ff","#0000ff","#00dbff","#15ffe3","#f0ff08","#ffed00","#ff1200","#e80000","#7f0000"],"clamp":true}}}},
{"data":{"name":"field"},"mark":{"type":"rect","width":44,"height":19.5,"clip":true,"opacity":0.5,"xOffset":5,"yOffset":-1.5},"encoding":{"x":{"field":"l","type":"quantitative"},"y":{"field":"t","type":"quantitative"},"color":{"field":"v","type":"quantitative","legend":null}}},
{"data":{"values":[{"lam":409,"t":168,"txt":"c)"}]},"mark":{"type":"text","fontSize":32,"align":"center","baseline":"middle","color":"#000"},"encoding":{"x":{"field":"lam","type":"quantitative"},"y":{"field":"t","type":"quantitative"},"text":{"field":"txt"}}},
{"data":{"values":[{"a":400,"b":600,"c":0,"d":180}]},"mark":{"type":"rect","fillOpacity":0,"stroke":"#222","strokeWidth":2},"encoding":{"x":{"field":"a","type":"quantitative"},"x2":{"field":"b"},"y":{"field":"c","type":"quantitative"},"y2":{"field":"d"}}}
]}
]}
]}
